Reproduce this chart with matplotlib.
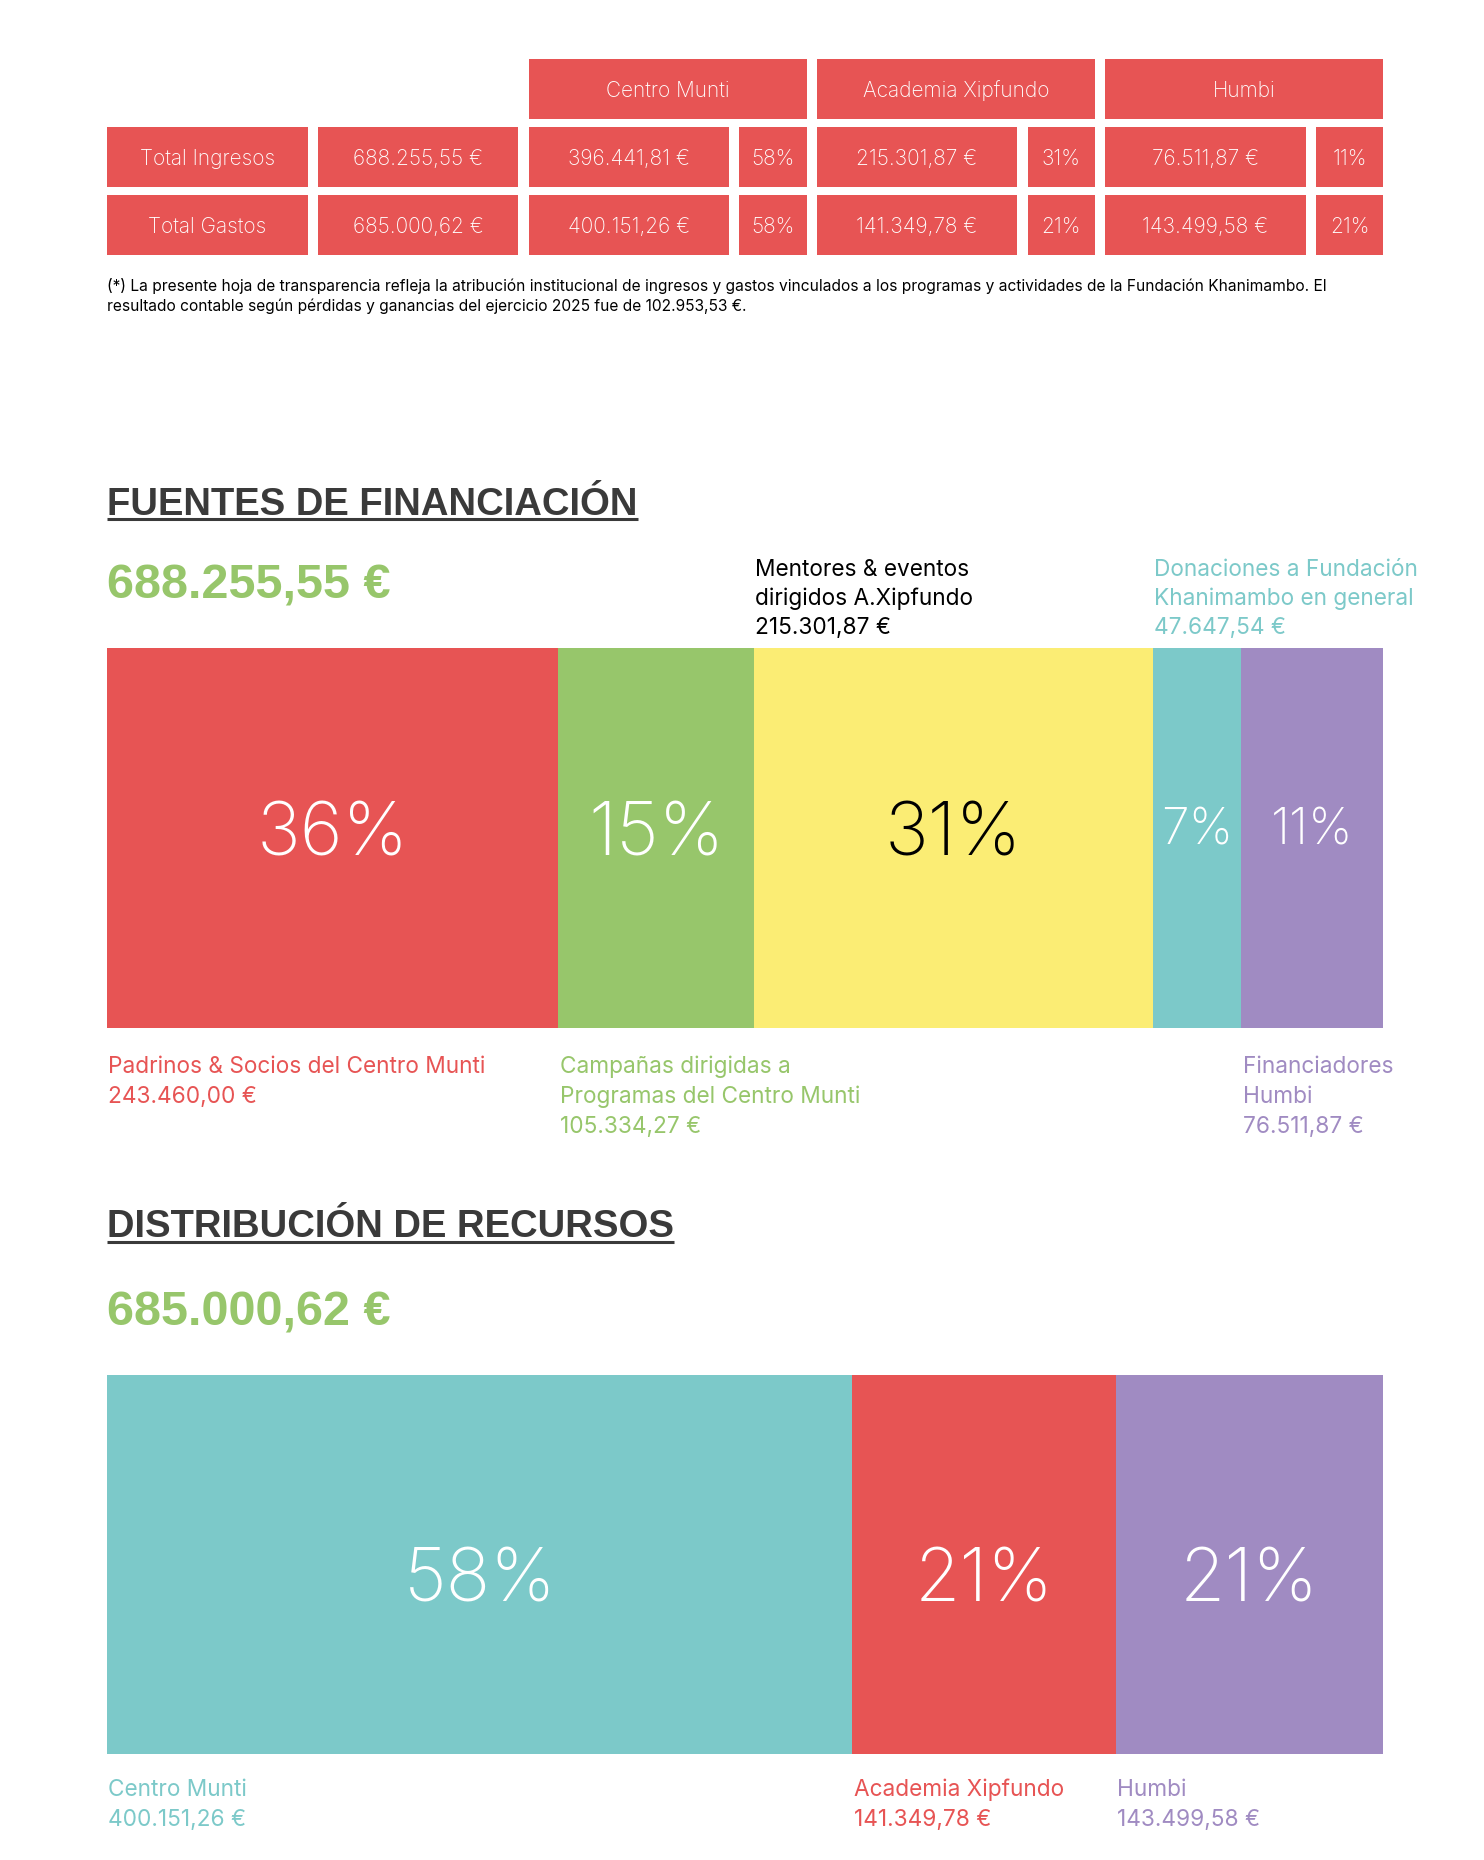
import matplotlib
matplotlib.use("Agg")
import matplotlib.pyplot as plt
from matplotlib.patches import Rectangle
from matplotlib.transforms import blended_transform_factory
import numpy as np

# ---------------- data ----------------
programs = ["Centro Munti", "Academia Xipfundo", "Humbi"]
table_rows = ["Total Ingresos", "Total Gastos"]
table_totals = [688255.55, 685000.62]
ingresos_prog = [396441.81, 215301.87, 76511.87]
gastos_prog = [400151.26, 141349.78, 143499.58]
ingresos_pct = ["58%", "31%", "11%"]
gastos_pct = ["58%", "21%", "21%"]

footnote_lines = [
    "(*) La presente hoja de transparencia refleja la atribución institucional de ingresos y gastos vinculados a los programas y actividades de la Fundación Khanimambo. El",
    "resultado contable según pérdidas y ganancias del ejercicio 2025 fue de 102.953,53 €.",
]

fund_title = "FUENTES DE FINANCIACIÓN"
fund_total = 688255.55
fund_labels = ["Padrinos & Socios del Centro Munti",
               "Campañas dirigidas a\nProgramas del Centro Munti",
               "Mentores & eventos\ndirigidos A.Xipfundo",
               "Donaciones a Fundación\nKhanimambo en general",
               "Financiadores\nHumbi"]
fund_values = [243460.00, 105334.27, 215301.87, 47647.54, 76511.87]
fund_pct = ["36%", "15%", "31%", "7%", "11%"]
fund_label_side = ["below", "below", "above", "above", "below"]

dist_title = "DISTRIBUCIÓN DE RECURSOS"
dist_total = 685000.62
dist_labels = ["Centro Munti", "Academia Xipfundo", "Humbi"]
dist_values = [400151.26, 141349.78, 143499.58]
dist_pct = ["58%", "21%", "21%"]

# ---------------- style ----------------
RED = "#E75454"
GREEN = "#97C66B"
YELLOW = "#FBED74"
TEAL = "#7CC9C9"
PURPLE = "#A08BC2"
DARK = "#3A3A3A"

fund_colors = [RED, GREEN, YELLOW, TEAL, PURPLE]
fund_text_colors = [RED, GREEN, "black", TEAL, PURPLE]
fund_pct_colors = ["white", "white", "black", "white", "white"]
fund_pct_sizes = [53, 53, 53, 36, 36]
dist_colors = [TEAL, RED, PURPLE]
dist_text_colors = [TEAL, RED, PURPLE]

SANS = ["Inter", "Roboto", "DejaVu Sans"]
BOLD = ["Liberation Sans", "DejaVu Sans"]
LABEL_FS = 16.3


def eur(v):
    s = f"{v:,.2f}".replace(",", "X").replace(".", ",").replace("X", ".")
    return s + " €"


W, H = 1484, 1860
fig = plt.figure(figsize=(W / 100, H / 100), dpi=100)
fig.patch.set_facecolor("white")

# pixel overlay for layout
ov = fig.add_axes([0, 0, 1, 1], zorder=5)
ov.set_xlim(0, W)
ov.set_ylim(H, 0)
ov.axis("off")
ov.patch.set_alpha(0)


def txt(x, y, s, size, color, ha="left", weight="light", family=SANS, transform=None):
    kw = {}
    if transform is not None:
        kw["transform"] = transform
    return ov.text(x, y, s, fontsize=size, color=color, ha=ha, va="baseline",
                   fontweight=weight, family=family, **kw)


# ---------------- table ----------------
X0 = 107.0
BIG, SMALL, GAP = 200.6, 67.2, 10.2
col_w = [BIG, BIG, BIG, SMALL, BIG, SMALL, BIG, SMALL]
col_x = [X0]
for w in col_w[:-1]:
    col_x.append(col_x[-1] + w + GAP)
ROW_H = 60
row_top = [59, 127, 195]
TBL_FS = 15
cap = 0.727 * TBL_FS / 0.72

# header
for i, p in enumerate(programs):
    c = 2 + 2 * i
    x = col_x[c]
    w = col_x[c + 1] + col_w[c + 1] - x
    ov.add_patch(Rectangle((x, row_top[0]), w, ROW_H, color=RED, lw=0))
    txt(x + w / 2, row_top[0] + ROW_H / 2 + cap / 2, p, TBL_FS, "white", ha="center")

rows = [
    [table_rows[0], eur(table_totals[0])] + sum([[eur(v), p] for v, p in zip(ingresos_prog, ingresos_pct)], []),
    [table_rows[1], eur(table_totals[1])] + sum([[eur(v), p] for v, p in zip(gastos_prog, gastos_pct)], []),
]
for r, row in enumerate(rows):
    top = row_top[r + 1]
    for c, s in enumerate(row):
        ov.add_patch(Rectangle((col_x[c], top), col_w[c], ROW_H, color=RED, lw=0))
        txt(col_x[c] + col_w[c] / 2, top + ROW_H / 2 + cap / 2, s, TBL_FS, "white", ha="center")

for i, line in enumerate(footnote_lines):
    txt(X0, 291 + i * 20, line, 11.2, "black", weight="normal")

# ---------------- bar sections ----------------
BAR_X0, BAR_X1 = 107.0, 1383.0


def bar_axes(top, bottom):
    return fig.add_axes([BAR_X0 / W, 1 - bottom / H, (BAR_X1 - BAR_X0) / W, (bottom - top) / H], zorder=1)


def section(title, title_base, total, total_base):
    t = txt(X0, title_base, title, 27.5, DARK, weight="bold", family=BOLD)
    txt(X0, total_base, eur(total), 35, GREEN, weight="bold", family=BOLD)
    return t


t1 = section(fund_title, 515, fund_total, 598)
t2 = section(dist_title, 1237, dist_total, 1325)

# Funding bar
ax1 = bar_axes(648, 1028)
lefts1 = np.concatenate([[0], np.cumsum(fund_values)[:-1]])
ax1.barh(0, fund_values, left=lefts1, height=1.0, color=fund_colors, linewidth=0)
ax1.set_xlim(0, sum(fund_values))
ax1.set_ylim(-0.5, 0.5)
ax1.axis("off")
tr1 = blended_transform_factory(ax1.transData, ov.transData)
off1 = 1.5 * sum(fund_values) / (BAR_X1 - BAR_X0)
for i, (v, l) in enumerate(zip(fund_values, lefts1)):
    big = fund_pct_sizes[i] > 40
    txt(l + v / 2, 855 if big else 844, fund_pct[i], fund_pct_sizes[i], fund_pct_colors[i],
        ha="center", transform=tr1)
    lines = fund_labels[i].split("\n") + [eur(v)]
    if fund_label_side[i] == "above":
        base = 634 - 29 * (len(lines) - 1)
    else:
        base = 1073
    for k, ln in enumerate(lines):
        txt(l + off1, base + (29 if fund_label_side[i] == "above" else 30) * k, ln, LABEL_FS,
            fund_text_colors[i], weight="normal", transform=tr1)

# Distribution bar
ax2 = bar_axes(1375, 1754)
lefts2 = np.concatenate([[0], np.cumsum(dist_values)[:-1]])
ax2.barh(0, dist_values, left=lefts2, height=1.0, color=dist_colors, linewidth=0)
ax2.set_xlim(0, sum(dist_values))
ax2.set_ylim(-0.5, 0.5)
ax2.axis("off")
tr2 = blended_transform_factory(ax2.transData, ov.transData)
off2 = 1.5 * sum(dist_values) / (BAR_X1 - BAR_X0)
for i, (v, l) in enumerate(zip(dist_values, lefts2)):
    txt(l + v / 2, 1601, dist_pct[i], 53, "white", ha="center", transform=tr2)
    lines = [dist_labels[i], eur(v)]
    for k, ln in enumerate(lines):
        txt(l + off2, 1796 + 30 * k, ln, LABEL_FS, dist_text_colors[i], weight="normal", transform=tr2)

# underlines below titles
fig.canvas.draw()
r = fig.canvas.get_renderer()
inv = ov.transData.inverted()
for t, uy in ((t1, 519), (t2, 1242)):
    bb = t.get_window_extent(r)
    (xa, _), (xb, _) = inv.transform([[bb.x0, bb.y0], [bb.x1, bb.y1]])
    ov.plot([xa, xb], [uy, uy], color=DARK, lw=2.2, solid_capstyle="butt")

fig.savefig("out.png", dpi=100, facecolor="white")
